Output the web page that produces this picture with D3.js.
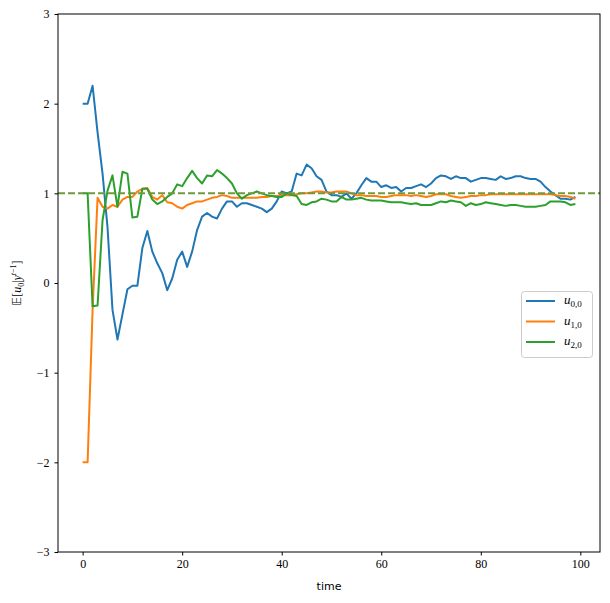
<!DOCTYPE html>
<html>
<head>
<meta charset="utf-8">
<script src="https://cdn.jsdelivr.net/npm/d3@7"></script>
<style>
  body { margin: 0; background: #fff; }
  svg { display: block; }
  .tick text { font-family: "Liberation Serif", "DejaVu Serif", serif; font-size: 12px; fill: #000; }
</style>
</head>
<body>
<svg id="chart" width="610" height="603"></svg>
<script>
const u00 = [2.0, 2.0, 2.2, 1.68, 1.22, 0.62, -0.3, -0.63, -0.35, -0.07,
  -0.03, -0.03, 0.39, 0.58, 0.35, 0.22, 0.11, -0.08, 0.05, 0.26,
  0.35, 0.18, 0.35, 0.59, 0.74, 0.78, 0.74, 0.72, 0.83, 0.91,
  0.91, 0.85, 0.89, 0.89, 0.87, 0.85, 0.83, 0.79, 0.83, 0.91,
  1.02, 1.0, 1.02, 1.22, 1.2, 1.32, 1.28, 1.19, 1.15, 1.02,
  0.98, 0.98, 0.96, 1.0, 0.94, 1.0, 1.09, 1.17, 1.13, 1.13,
  1.07, 1.09, 1.06, 1.07, 1.02, 1.06, 1.06, 1.08, 1.1, 1.07,
  1.11, 1.17, 1.2, 1.19, 1.16, 1.19, 1.17, 1.17, 1.13, 1.15,
  1.17, 1.17, 1.16, 1.15, 1.19, 1.16, 1.17, 1.19, 1.19, 1.17,
  1.16, 1.16, 1.13, 1.07, 1.02, 0.98, 0.94, 0.94, 0.93, 0.96];

const u10 = [-2.0, -2.0, -0.3, 0.95, 0.85, 0.83, 0.87, 0.85, 0.93, 0.96,
  0.96, 1.02, 1.05, 1.06, 0.96, 0.93, 0.98, 0.9, 0.89, 0.85,
  0.83, 0.87, 0.89, 0.91, 0.91, 0.93, 0.95, 0.96, 0.98, 0.97,
  0.95, 0.95, 0.95, 0.95, 0.95, 0.95, 0.96, 0.96, 0.97, 0.97,
  0.98, 0.98, 0.98, 0.99, 1.0, 1.0, 1.01, 1.02, 1.02, 1.01,
  1.01, 1.02, 1.02, 1.02, 1.0, 0.98, 0.98, 0.97, 0.97, 0.97,
  0.96, 0.96, 0.97, 0.98, 0.98, 0.98, 0.97, 0.98, 0.97, 0.96,
  0.97, 0.99, 0.99, 0.99, 0.97, 0.96, 0.95, 0.96, 0.97, 0.97,
  0.98, 0.98, 0.99, 0.99, 0.99, 0.99, 0.99, 0.99, 0.99, 0.99,
  0.99, 0.99, 0.99, 0.99, 0.99, 0.98, 0.97, 0.97, 0.96, 0.94];

const u20 = [1.0, 1.0, -0.26, -0.25, 0.7, 1.03, 1.2, 0.85, 1.24, 1.22,
  0.73, 0.74, 1.05, 1.05, 0.93, 0.88, 0.91, 0.96, 1.0, 1.1,
  1.08, 1.17, 1.25, 1.17, 1.11, 1.2, 1.19, 1.26, 1.22, 1.17,
  1.11, 1.0, 0.94, 0.98, 1.0, 1.02, 1.0, 0.98, 0.97, 0.96,
  0.96, 1.0, 0.98, 0.97, 0.88, 0.87, 0.9, 0.91, 0.94, 0.93,
  0.91, 0.91, 0.96, 0.93, 0.93, 0.94, 0.95, 0.93, 0.92, 0.92,
  0.92, 0.91, 0.9, 0.9, 0.9, 0.89, 0.88, 0.89, 0.87, 0.87,
  0.87, 0.89, 0.91, 0.9, 0.92, 0.91, 0.9, 0.86, 0.89, 0.87,
  0.88, 0.9, 0.89, 0.88, 0.87, 0.86, 0.87, 0.87, 0.86, 0.85,
  0.85, 0.85, 0.86, 0.87, 0.91, 0.91, 0.91, 0.9, 0.87, 0.88];

const seriesNames = ["0,0", "1,0", "2,0"];
const seriesColors = ["#1f77b4", "#ff7f0e", "#2ca02c"];
const xTicks = [0, 20, 40, 60, 80, 100];
const yTicks = [-3, -2, -1, 0, 1, 2, 3];
const refValue = 1;

(function () {
const svg = d3.select("#chart");
const mLeft = 58, mRight = 600, mTop = 14, mBottom = 552;
const n = u00.length;
const x = d3.scaleLinear().domain([-0.05 * (n - 1), (n - 1) * 1.05]).range([mLeft, mRight]);
const y = d3.scaleLinear().domain([-3, 3]).range([mBottom, mTop]);

const series = [u00, u10, u20];
const line = d3.line().x((d, i) => x(i)).y(d => y(d));

series.forEach((s, k) => {
  svg.append("path").datum(s)
    .attr("fill", "none")
    .attr("stroke", seriesColors[k])
    .attr("stroke-width", 2)
    .attr("stroke-linejoin", "round")
    .attr("d", line);
});

svg.append("line")
  .attr("x1", mLeft).attr("x2", mRight)
  .attr("y1", y(refValue)).attr("y2", y(refValue))
  .attr("stroke", "#6f9a3c").attr("stroke-width", 2)
  .attr("stroke-dasharray", "7,3");

svg.append("rect").attr("x", mLeft).attr("y", mTop)
  .attr("width", mRight - mLeft).attr("height", mBottom - mTop)
  .attr("fill", "none").attr("stroke", "#000").attr("stroke-width", 1);

const xAxis = svg.append("g").attr("transform", `translate(0,${mBottom})`)
  .call(d3.axisBottom(x).tickValues(xTicks).tickSize(3.5).tickPadding(4).tickFormat(d3.format("d")));
const yAxis = svg.append("g").attr("transform", `translate(${mLeft},0)`)
  .call(d3.axisLeft(y).tickValues(yTicks).tickSize(3.5).tickPadding(5).tickFormat(d3.format("d")));
[xAxis, yAxis].forEach(a => {
  a.select(".domain").remove();
  a.selectAll(".tick line").attr("stroke", "#000");
});

svg.append("text").attr("x", (mLeft + mRight) / 2).attr("y", 590)
  .attr("text-anchor", "middle")
  .attr("font-family", "DejaVu Sans, sans-serif").attr("font-size", 11)
  .text("time");

const yl = svg.append("text")
  .attr("transform", `translate(21,${(mTop + mBottom) / 2}) rotate(-90)`)
  .attr("text-anchor", "middle")
  .attr("font-family", "Liberation Serif, DejaVu Serif, serif").attr("font-size", 12);
yl.append("tspan").attr("font-family", "DejaVu Sans").text("𝔼");
yl.append("tspan").text("[");
yl.append("tspan").attr("font-style", "italic").text("u");
yl.append("tspan").attr("font-size", 8).attr("dy", 3).text("0");
yl.append("tspan").attr("dy", -3).text("|");
yl.append("tspan").attr("font-style", "italic").text("y");
yl.append("tspan").attr("font-size", 8).attr("dy", -5).attr("font-style", "italic").text("t");
yl.append("tspan").attr("font-size", 8).text("−1");
yl.append("tspan").attr("dy", 5).text("]");

const lg = svg.append("g");
lg.append("rect").attr("x", 521.5).attr("y", 291.5).attr("width", 71).attr("height", 66)
  .attr("rx", 3).attr("fill", "#fff").attr("fill-opacity", 0.8)
  .attr("stroke", "#ccc").attr("stroke-width", 1);
seriesNames.forEach((name, k) => {
  const yy = 301 + k * 20.5;
  lg.append("line").attr("x1", 526).attr("x2", 555).attr("y1", yy).attr("y2", yy)
    .attr("stroke", seriesColors[k]).attr("stroke-width", 2);
  const t = lg.append("text").attr("x", 564).attr("y", yy + 3)
    .attr("font-family", "Liberation Serif, DejaVu Serif, serif").attr("font-size", 13);
  t.append("tspan").attr("font-style", "italic").text("u");
  t.append("tspan").attr("font-size", 9).attr("dy", 3).text(name);
});
})();
</script>
</body>
</html>
